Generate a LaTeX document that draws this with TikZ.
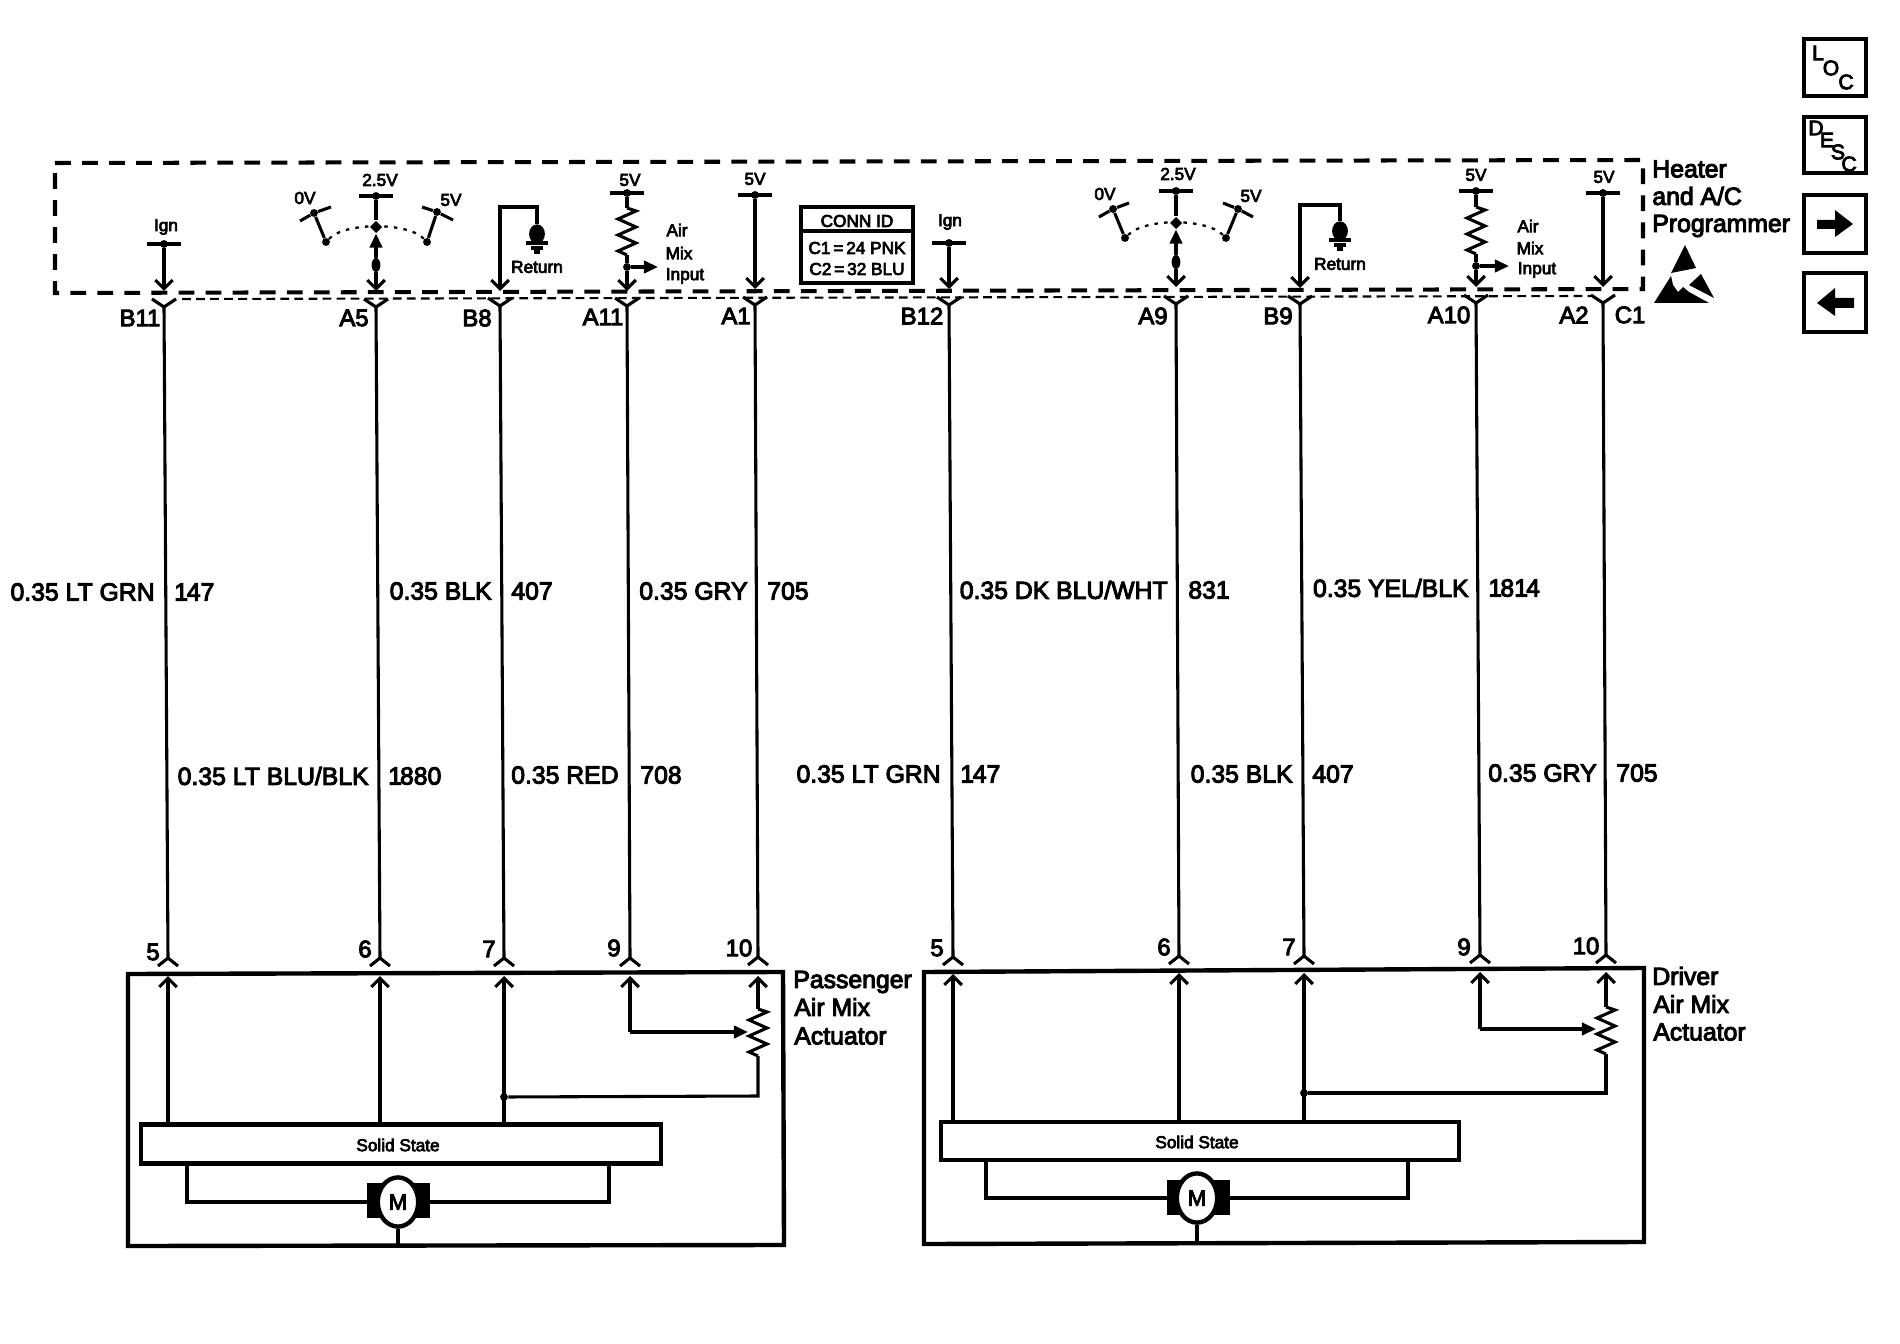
\documentclass[tikz,border=0pt]{standalone}
\usepackage{fontspec}
\setmainfont{Liberation Sans}
\newfontfamily\wirefont[FakeBold=4]{Liberation Sans}
\usetikzlibrary{arrows.meta,shapes.geometric}
\tikzset{
  wire/.style={line width=1.75pt,line join=miter},
  heavy/.style={line width=2.5pt,line join=miter},
  wirein/.style={wire,-{Straight Barb[length=5pt,width=10pt]}},
  wirefill/.style={wire,-{Triangle[length=8pt,width=7pt]}},
  progbox/.style={line width=2.3pt,dash pattern=on 9pt off 6.4pt},
  connline/.style={line width=1.2pt,dash pattern=on 5pt off 3pt},
  wiper/.style={line width=1.3pt,dash pattern=on 2pt off 3.5pt},
  lbl/.style={inner sep=0pt,font=\wirefont\fontsize{14.1}{17}\selectfont},
  lblpin/.style={inner sep=0pt,font=\wirefont\fontsize{13.6}{17}\selectfont},
  lblsmall/.style={inner sep=0pt,font=\wirefont\fontsize{9.8}{12}\selectfont},
  lblbtn/.style={inner sep=0pt,font=\wirefont\fontsize{12}{12}\selectfont},
  jdot/.style={circle,fill=black,inner sep=0pt,minimum size=4.5pt},
  jdia/.style={diamond,fill=black,inner sep=0pt,minimum size=7pt},
  jlong/.style={ellipse,fill=black,inner sep=0pt,minimum width=5pt,minimum height=8pt},
  motor/.style={ellipse,draw,fill=white,heavy,inner sep=0pt,minimum width=23pt,minimum height=28pt,font=\wirefont\fontsize{12.5}{14}\selectfont},
}
\newcommand{\forkup}[1]{\draw[wire] (#1) ++(-12,-8) -- (#1) -- ++(12,-8);}
\newcommand{\forkdown}[1]{\draw[wire] (#1) ++(-10,8) -- (#1) -- ++(10,8);}
\newcommand{\zigzag}[1]{\draw[wire] (#1) -- ++(9,3) -- ++(-18,8) -- ++(18,8) -- ++(-18,8) -- ++(18,8) -- ++(-18,8) -- ++(9,4);}
\newcommand{\tbar}[1]{\draw[wire] (#1) ++(-17,0) -- ++(34,0);}
\begin{document}
\begin{tikzpicture}[x=0.02cm,y=-0.02cm]
\useasboundingbox (0,0) rectangle (1900,1344);
% heater and a/c programmer
\draw[progbox] (55,163) -- (1643,160) -- (1643,289) -- (55,293) -- cycle;
\node[lbl,anchor=west] (progA) at (1652,169) {Heater};
\node[lbl,anchor=west] (progB) at (1652,196) {and A/C};
\node[lbl,anchor=west] (progC) at (1652,226) {Programmer};
\fill (1685,245) -- (1696,268) -- (1671,273) -- cycle;
\fill (1701,274) -- (1714,298) -- (1689,285) -- cycle;
\fill (1671,276) -- (1654,303) -- (1709,303) -- (1689,292) -- (1683,287) -- (1678,292) -- (1673,285) -- cycle;
% wire ends, top then bottom
\coordinate (b11) at (164,307);  \coordinate (pa5) at (168,958);
\coordinate (a5) at (376,307);   \coordinate (pa6) at (380,958);
\coordinate (b8) at (500,306);   \coordinate (pa7) at (504,958);
\coordinate (a11) at (627,306);  \coordinate (pa9) at (630,958);
\coordinate (a1) at (755,305);   \coordinate (pa10) at (758,957);
\coordinate (b12) at (949,305);  \coordinate (dr5) at (953,957);
\coordinate (a9) at (1176,304);  \coordinate (dr6) at (1179,956);
\coordinate (b9) at (1300,304);  \coordinate (dr7) at (1304,956);
\coordinate (a10) at (1476,303); \coordinate (dr9) at (1480,955);
\coordinate (a2) at (1603,303);  \coordinate (dr10) at (1606,955);
\draw[wire] (b11) -- (pa5);
\draw[wire] (a5) -- (pa6);
\draw[wire] (b8) -- (pa7);
\draw[wire] (a11) -- (pa9);
\draw[wire] (a1) -- (pa10);
\draw[wire] (b12) -- (dr5);
\draw[wire] (a9) -- (dr6);
\draw[wire] (b9) -- (dr7);
\draw[wire] (a10) -- (dr9);
\draw[wire] (a2) -- (dr10);
\forkup{b11} \forkup{a5} \forkup{b8} \forkup{a11} \forkup{a1}
\forkup{b12} \forkup{a9} \forkup{b9} \forkup{a10} \forkup{a2}
\forkdown{pa5} \forkdown{pa6} \forkdown{pa7} \forkdown{pa9} \forkdown{pa10}
\forkdown{dr5} \forkdown{dr6} \forkdown{dr7} \forkdown{dr9} \forkdown{dr10}
\draw[connline] (182,299) -- (1591,296);
% pin names
\node[lblpin] (nb11) at (140,318) {B11};
\node[lblpin] (na5) at (354,318) {A5};
\node[lblpin] (nb8) at (477,318) {B8};
\node[lblpin] (na11) at (603,317) {A11};
\node[lblpin] (na1) at (736,316) {A1};
\node[lblpin] (nb12) at (922,316) {B12};
\node[lblpin] (na9) at (1153,316) {A9};
\node[lblpin] (nb9) at (1278,316) {B9};
\node[lblpin] (na10) at (1449,315) {A10};
\node[lblpin] (na2) at (1574,315) {A2};
\node[lblpin] (nc1) at (1630,315) {C1};
\node[lblpin] (npa5) at (153,952) {5};
\node[lblpin] (npa6) at (365,949) {6};
\node[lblpin] (npa7) at (489,949) {7};
\node[lblpin] (npa9) at (614,948) {9};
\node[lblpin] (npa10) at (739,948) {10};
\node[lblpin] (ndr5) at (937,948) {5};
\node[lblpin] (ndr6) at (1164,947) {6};
\node[lblpin] (ndr7) at (1289,947) {7};
\node[lblpin] (ndr9) at (1464,947) {9};
\node[lblpin] (ndr10) at (1586,946) {10};
% circuit labels
\node[lbl,anchor=east] (c1a) at (155,592) {0.35 LT GRN};
\node[lbl,anchor=west] (c1b) at (174,592) {1\kern-.8pt 47};
\node[lbl,anchor=east] (c3a) at (492,591) {0.35 BLK};
\node[lbl,anchor=west] (c3b) at (511,591) {407};
\node[lbl,anchor=east] (c5a) at (748,591) {0.35 GRY};
\node[lbl,anchor=west] (c5b) at (767,591) {705};
\node[lbl,anchor=east] (c7a) at (1168,590) {0.35 DK BLU/WHT};
\node[lbl,anchor=west] (c7b) at (1188,590) {831};
\node[lbl,anchor=east] (c9a) at (1469,588) {0.35 YEL/BLK};
\node[lbl,anchor=west] (c9b) at (1488,588) {1\kern-1pt 81\kern-1pt 4};
\node[lbl,anchor=east] (c2a) at (369,776) {0.35 LT BLU/BLK};
\node[lbl,anchor=west] (c2b) at (388,776) {1\kern-1.2pt 880};
\node[lbl,anchor=east] (c4a) at (619,775) {0.35 RED};
\node[lbl,anchor=west] (c4b) at (640,775) {708};
\node[lbl,anchor=east] (c6a) at (941,774) {0.35 LT GRN};
\node[lbl,anchor=west] (c6b) at (960,774) {1\kern-.8pt 47};
\node[lbl,anchor=east] (c8a) at (1293,774) {0.35 BLK};
\node[lbl,anchor=west] (c8b) at (1312,774) {407};
\node[lbl,anchor=east] (c10a) at (1597,773) {0.35 GRY};
\node[lbl,anchor=west] (c10b) at (1616,773) {705};
% ign
\node[lblsmall] (ignA) at (166,227) {Ign};
\node[jdot] (ignAd) at (164,244) {};
\draw[wirein] (ignAd) -- (164,291);
\tbar{ignAd}
\node[lblsmall] (ignB) at (950,222) {Ign};
\node[jdot] (ignBd) at (949,243) {};
\draw[wirein] (ignBd) -- (949,289);
\tbar{ignBd}
% passenger side switch
\node[lblsmall] (a5v) at (380,180) {2.5V};
\node[jdot] (a5t) at (376,196) {};
\tbar{a5t}
\node[jdia] (a5d) at (376,227) {};
\node[jlong] (a5o) at (376,265) {};
\draw[wire] (a5t) -- (a5d);
\draw[wirefill] (a5o) -- (a5d);
\draw[wirein] (a5o) -- (376,291);
\node[jdot] (a5l) at (326,242) {};
\node[jdot] (a5lt) at (314,213) {};
\draw[wire] (a5l) -- (a5lt);
\draw[wire] (300,221) -- (a5lt) -- (331,207);
\node[lblsmall] (a5lv) at (305,198) {0V};
\node[jdot] (a5r) at (427,242) {};
\node[jdot] (a5rt) at (437,212) {};
\draw[wire] (a5r) -- (a5rt);
\draw[wire] (422,207) -- (a5rt) -- (453,220);
\node[lblsmall] (a5rv) at (451,200) {5V};
\draw[wiper] (a5l) .. controls (345,222) and (408,222) .. (a5r);
% driver side switch
\node[lblsmall] (a9v) at (1178,174) {2.5V};
\node[jdot] (a9t) at (1176,191) {};
\tbar{a9t}
\node[jdia] (a9d) at (1176,223) {};
\node[jlong] (a9o) at (1176,262) {};
\draw[wire] (a9t) -- (a9d);
\draw[wirefill] (a9o) -- (a9d);
\draw[wirein] (a9o) -- (1176,287);
\node[jdot] (a9l) at (1125,238) {};
\node[jdot] (a9lt) at (1113,209) {};
\draw[wire] (a9l) -- (a9lt);
\draw[wire] (1099,217) -- (a9lt) -- (1129,203);
\node[lblsmall] (a9lv) at (1105,194) {0V};
\node[jdot] (a9r) at (1226,238) {};
\node[jdot] (a9rt) at (1238,209) {};
\draw[wire] (a9r) -- (a9rt);
\draw[wire] (1223,203) -- (a9rt) -- (1253,217);
\node[lblsmall] (a9rv) at (1251,196) {5V};
\draw[wiper] (a9l) .. controls (1145,218) and (1206,218) .. (a9r);
% return
\node[jlong,minimum width=9pt,minimum height=11pt] (retA) at (537,234) {};
\coordinate (retAc) at (500,207);
\draw[wirein] (retA) -- (537,207) -- (retAc) -- (500,291);
\draw[wire] (526,243) -- (548,243);
\draw[wire] (531,248) -- (543,248);
\draw[wire] (534,252) -- (540,252);
\node[lblsmall] (retAt) at (537,267) {Return};
\node[jlong,minimum width=9pt,minimum height=11pt] (retB) at (1340,231) {};
\coordinate (retBc) at (1300,205);
\draw[wirein] (retB) -- (1340,205) -- (retBc) -- (1300,288);
\draw[wire] (1329,240) -- (1351,240);
\draw[wire] (1334,245) -- (1346,245);
\draw[wire] (1337,249) -- (1343,249);
\node[lblsmall] (retBt) at (1340,264) {Return};
% air mix input
\node[lblsmall] (a11v) at (630,180) {5V};
\node[jdot] (a11t) at (627,193) {};
\tbar{a11t}
\coordinate (a11r) at (627,208);
\draw[wire] (a11t) -- (a11r);
\zigzag{a11r}
\node[jdot] (a11o) at (627,267) {};
\draw[wire] (627,255) -- (a11o);
\draw[wirein] (a11o) -- (627,291);
\draw[wirefill] (a11o) -- (658,267);
\node[lblsmall] (a11i) at (677,230) {Air};
\node[lblsmall] (a11j) at (679,253) {Mix};
\node[lblsmall] (a11k) at (685,276) {Input};
\node[lblsmall] (a10v) at (1476,175) {5V};
\node[jdot] (a10t) at (1476,191) {};
\tbar{a10t}
\coordinate (a10r) at (1476,207);
\draw[wire] (a10t) -- (a10r);
\zigzag{a10r}
\node[jdot] (a10o) at (1476,266) {};
\draw[wire] (1476,254) -- (a10o);
\draw[wirein] (a10o) -- (1476,287);
\draw[wirefill] (a10o) -- (1509,266);
\node[lblsmall] (a10i) at (1528,226) {Air};
\node[lblsmall] (a10j) at (1530,248) {Mix};
\node[lblsmall] (a10k) at (1537,270) {Input};
% 5v feeds
\node[lblsmall] (a1v) at (755,179) {5V};
\node[jdot] (a1t) at (755,195) {};
\tbar{a1t}
\draw[wirein] (a1t) -- (755,289);
\node[lblsmall] (a2v) at (1604,177) {5V};
\node[jdot] (a2t) at (1603,193) {};
\tbar{a2t}
\draw[wirein] (a2t) -- (1603,287);
% conn id
\draw[heavy] (801,207) rectangle (913,283);
\draw[wire] (801,231) -- (913,231);
\node[lblsmall] (connA) at (857,221) {CONN ID};
\node[lblsmall] (connB) at (857,248) {C1\,=\,24 PNK};
\node[lblsmall] (connC) at (857,269) {C2\,=\,32 BLU};
% passenger actuator
\draw[heavy] (128,974) -- (783,972) -- (784,1245) -- (128,1246) -- cycle;
\node[lbl,anchor=west] (paA) at (793,982) {Passenger};
\node[lbl,anchor=west] (paB) at (794,1007) {Air Mix};
\node[lbl,anchor=west] (paC) at (794,1036) {Actuator};
\node[draw,heavy,inner sep=0pt,minimum width=10.4cm,minimum height=0.78cm] (paS) at (401,1144) {};
\node[lblsmall] (paSt) at (398,1145) {Solid State};
\draw[wirein] (168,1124) -- (168,976);
\draw[wirein] (380,1124) -- (380,976);
\draw[wirein] (504,1124) -- (504,976);
\node[jdot] (paJ) at (504,1097) {};
\coordinate (paRb) at (758,1096);
\coordinate (paRt) at (758,1009);
\draw[wire] (paJ) -- (paRb) -- (758,1056);
\zigzag{paRt}
\draw[wirein] (paRt) -- (758,976);
\draw[wirein] (630,1032) -- (630,976);
\draw[wirefill] (630,1032) -- (748,1032);
\fill (367,1183) rectangle (430,1218);
\node[motor] (paM) at (398,1202) {M};
\draw[wire] (187,1163) |- (paM);
\draw[wire] (609,1163) |- (paM);
\draw[wire] (paM) -- (398,1246);
% driver actuator
\draw[heavy] (924,972) -- (1644,968) -- (1644,1242) -- (924,1244) -- cycle;
\node[lbl,anchor=west] (drA) at (1652,976) {Driver};
\node[lbl,anchor=west] (drB) at (1653,1004) {Air Mix};
\node[lbl,anchor=west] (drC) at (1653,1032) {Actuator};
\node[draw,heavy,inner sep=0pt,minimum width=10.36cm,minimum height=0.76cm] (drS) at (1200,1141) {};
\node[lblsmall] (drSt) at (1197,1142) {Solid State};
\draw[wirein] (953,1122) -- (953,974);
\draw[wirein] (1179,1122) -- (1179,973);
\draw[wirein] (1304,1122) -- (1304,973);
\node[jdot] (drJ) at (1304,1093) {};
\coordinate (drRb) at (1606,1093);
\coordinate (drRt) at (1606,1007);
\draw[wire] (drJ) -- (drRb) -- (1606,1054);
\zigzag{drRt}
\draw[wirein] (drRt) -- (1606,972);
\draw[wirein] (1480,1029) -- (1480,972);
\draw[wirefill] (1480,1029) -- (1596,1029);
\fill (1167,1180) rectangle (1230,1215);
\node[motor] (drM) at (1197,1198) {M};
\draw[wire] (986,1160) |- (drM);
\draw[wire] (1408,1160) |- (drM);
\draw[wire] (drM) -- (1197,1243);
% buttons
\draw[heavy] (1804,39) rectangle (1866,96);
\node[lblbtn] (locL) at (1818,53) {L};
\node[lblbtn] (locO) at (1831,68) {O};
\node[lblbtn] (locC) at (1846,82) {C};
\draw[heavy] (1804,117) rectangle (1866,173);
\node[lblbtn] (dscD) at (1816,128) {D};
\node[lblbtn] (dscE) at (1827,140) {E};
\node[lblbtn] (dscS) at (1838,152) {S};
\node[lblbtn] (dscC) at (1849,164) {C};
\draw[heavy] (1804,195) rectangle (1866,253);
\fill (1817,220) -- (1835,220) -- (1835,210) -- (1853,224) -- (1835,237) -- (1835,229) -- (1817,229) -- cycle;
\draw[heavy] (1804,273) rectangle (1866,332);
\fill (1854,298) -- (1835,298) -- (1835,288) -- (1817,303) -- (1835,316) -- (1835,308) -- (1854,308) -- cycle;
\end{tikzpicture}
\end{document}
